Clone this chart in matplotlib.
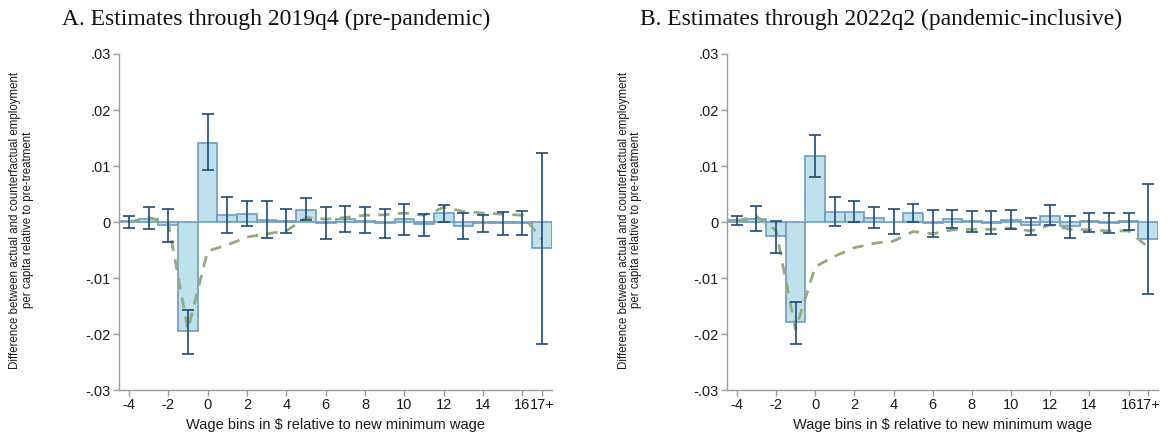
import matplotlib
matplotlib.use("Agg")
import matplotlib.pyplot as plt
import numpy as np

# ---------------- data ----------------
bins = [-4, -3, -2, -1, 0, 1, 2, 3, 4, 5, 6, 7, 8, 9, 10, 11, 12, 13, 14, 15, 16, 17]
tick_pos = [-4, -2, 0, 2, 4, 6, 8, 10, 12, 14, 16, 17]
tick_lab = ["-4", "-2", "0", "2", "4", "6", "8", "10", "12", "14", "16", "17+"]
ytick_pos = [-0.03, -0.02, -0.01, 0, 0.01, 0.02, 0.03]
ytick_lab = ["-.03", "-.02", "-.01", "0", ".01", ".02", ".03"]

a_est = [0.0001, 0.0006, -0.0005, -0.0195, 0.0141, 0.0013, 0.0015, 0.0004, 0.0002, 0.0022, -0.0002,
         0.0005, 0.0002, -0.0002, 0.0005, -0.0004, 0.0016, -0.0007, -0.0001, -0.0001, -0.0001, -0.0047]
a_lo = [-0.0010, -0.0013, -0.0036, -0.0235, 0.0092, -0.0019, -0.0007, -0.0028, -0.0019, 0.0003, -0.0031,
        -0.0018, -0.0019, -0.0029, -0.0023, -0.0025, 0.0000, -0.0031, -0.0017, -0.0023, -0.0023, -0.0217]
a_hi = [0.0010, 0.0027, 0.0023, -0.0158, 0.0192, 0.0045, 0.0038, 0.0038, 0.0023, 0.0043, 0.0026,
        0.0029, 0.0026, 0.0023, 0.0032, 0.0014, 0.0031, 0.0016, 0.0013, 0.0017, 0.0019, 0.0124]
a_dash = [0.0000, 0.0008, -0.0001, -0.0192, -0.0052, -0.0041, -0.0027, -0.0021, -0.0016, 0.0008, 0.0005,
          0.0008, 0.0012, 0.0013, 0.0016, 0.0012, 0.0026, 0.0019, 0.0016, 0.0014, 0.0012, -0.0031]

b_est = [0.0003, 0.0006, -0.0025, -0.0179, 0.0117, 0.0018, 0.0018, 0.0008, 0.0000, 0.0016, -0.0002,
         0.0005, 0.0001, -0.0001, 0.0004, -0.0006, 0.0011, -0.0008, 0.0001, -0.0001, 0.0001, -0.0031]
b_lo = [-0.0005, -0.0016, -0.0056, -0.0217, 0.0080, -0.0008, 0.0000, -0.0011, -0.0021, 0.0000, -0.0026,
        -0.0011, -0.0018, -0.0022, -0.0013, -0.0023, -0.0005, -0.0029, -0.0017, -0.0020, -0.0014, -0.0129]
b_hi = [0.0011, 0.0028, 0.0002, -0.0143, 0.0155, 0.0045, 0.0038, 0.0027, 0.0023, 0.0033, 0.0022,
        0.0021, 0.0020, 0.0020, 0.0022, 0.0008, 0.0030, 0.0011, 0.0016, 0.0016, 0.0016, 0.0067]
b_dash = [0.0002, 0.0010, -0.0015, -0.0192, -0.0080, -0.0061, -0.0046, -0.0038, -0.0034, -0.0017, -0.0021,
          -0.0014, -0.0013, -0.0013, -0.0011, -0.0016, -0.0005, -0.0013, -0.0014, -0.0016, -0.0016, -0.0045]

titles = ["A. Estimates through 2019q4 (pre-pandemic)", "B. Estimates through 2022q2 (pandemic-inclusive)"]
ylabel = "Difference between actual and counterfactual employment\nper capita relative to pre-treatment"
xlabel = "Wage bins in $ relative to new minimum wage"

# ---------------- style ----------------
plt.rcParams['font.family'] = ['Liberation Sans', 'DejaVu Sans']
W, H = 1168, 436
fig = plt.figure(figsize=(W / 100, H / 100), dpi=100)

BAR_FC = '#bfe1ec'
BAR_EC = '#6e9cbc'
ERR_C = '#1e4b78'
DASH_C = '#93ab7c'
AX_C = '#9a9a9a'

panels = [
    dict(left=119, right=552, title_x=62, ylab_x=21.5, est=a_est, lo=a_lo, hi=a_hi, dash=a_dash, title=titles[0]),
    dict(left=727, right=1158, title_x=640, ylab_x=630, est=b_est, lo=b_lo, hi=b_hi, dash=b_dash, title=titles[1]),
]
top_px, bot_px = 54, 390

for p in panels:
    ax = fig.add_axes([p['left'] / W, 1 - bot_px / H, (p['right'] - p['left']) / W, (bot_px - top_px) / H])
    x = np.array(bins, dtype=float)
    est = np.array(p['est'])
    lo = np.array(p['lo'])
    hi = np.array(p['hi'])
    ax.bar(x, est, width=1.0, color=BAR_FC, edgecolor=BAR_EC, linewidth=1.2, zorder=2)
    ax.plot(x, p['dash'], color=DASH_C, linestyle=(0, (4, 3)), linewidth=2.0, zorder=3)
    ax.errorbar(x, est, yerr=[est - lo, hi - est], fmt='none', ecolor=ERR_C, elinewidth=1.2,
                capsize=4, capthick=1.2, zorder=4)
    ax.set_xlim(-4.5, 17.5)
    ax.set_ylim(-0.03, 0.03)
    ax.set_xticks(tick_pos)
    ax.set_xticklabels(tick_lab)
    ax.set_yticks(ytick_pos)
    ax.set_yticklabels(ytick_lab)
    for s in ['top', 'right']:
        ax.spines[s].set_visible(False)
    for s in ['left', 'bottom']:
        ax.spines[s].set_color(AX_C)
        ax.spines[s].set_linewidth(1.0)
    ax.tick_params(axis='both', direction='out', length=4, width=1.0, color=AX_C,
                   labelsize=10.5, labelcolor='#1a1a1a', pad=2)
    ax.set_xlabel(xlabel, fontsize=10.5, color='#1a1a1a', labelpad=4)
    fig.text(p['ylab_x'] / W, 1 - 220 / H, ylabel, rotation=90, ha='center', va='center',
             multialignment='center', fontsize=8.3, color='#1a1a1a', linespacing=1.05)
    fig.text(p['title_x'] / W, 1 - 25 / H, p['title'], ha='left', va='baseline',
             fontsize=17, family=['Liberation Serif', 'DejaVu Serif'], color='#111111')

fig.savefig('out.png', dpi=100)
